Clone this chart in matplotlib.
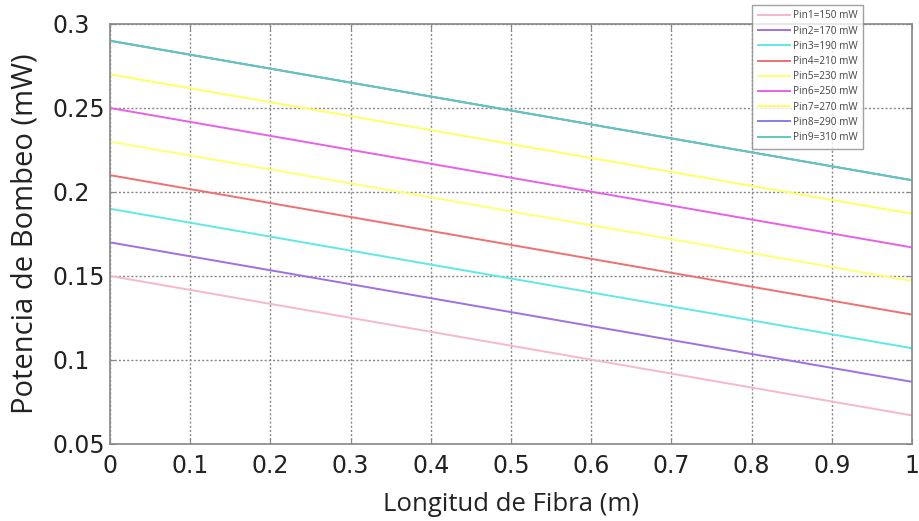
import matplotlib
matplotlib.use("Agg")
import matplotlib.pyplot as plt

# fibre length endpoints (m) and pump power at each end (mW)
longitud = [0, 1]
labels = ["Pin1=150 mW", "Pin2=170 mW", "Pin3=190 mW", "Pin4=210 mW", "Pin5=230 mW",
          "Pin6=250 mW", "Pin7=270 mW", "Pin8=290 mW", "Pin9=310 mW"]
p_inicio = [0.150, 0.170, 0.190, 0.210, 0.230, 0.250, 0.270, 0.290, 0.290]
p_final = [0.067, 0.087, 0.107, 0.127, 0.147, 0.167, 0.187, 0.207, 0.207]
colores = ["#f7b8c8", "#a070e0", "#60e8e8", "#f07070", "#ffff70",
           "#e860e8", "#ffff60", "#8080e8", "#60c8b8"]

plt.rcParams['font.family'] = ['DejaVu Sans']

fig = plt.figure(figsize=(9.2, 5.21), dpi=100)
ax = fig.add_axes([0.1196, 0.1478, 0.8717, 0.8062])

for lab, p0, p1, c in zip(labels, p_inicio, p_final, colores):
    ax.plot(longitud, [p0, p1], color=c, lw=1.4, label=lab)

ax.set_xlim(0, 1)
ax.set_ylim(0.05, 0.3)
ax.set_xticks([0, 0.1, 0.2, 0.3, 0.4, 0.5, 0.6, 0.7, 0.8, 0.9, 1])
ax.set_xticklabels(["0", "0.1", "0.2", "0.3", "0.4", "0.5", "0.6", "0.7", "0.8", "0.9", "1"])
ax.set_yticks([0.05, 0.1, 0.15, 0.2, 0.25, 0.3])
ax.set_yticklabels(["0.05", "0.1", "0.15", "0.2", "0.25", "0.3"], ha="left")
ax.tick_params(direction="in", length=4, labelsize=17, colors="#888888",
               top=True, right=True, labelcolor="#222222")
ax.tick_params(axis="x", pad=7)
ax.tick_params(axis="y", pad=41.5)
ax.grid(True, linestyle=(0, (1.5, 1.5)), color="#888888", lw=1.0)
for s in ax.spines.values():
    s.set_color("#888888")
    s.set_linewidth(1.2)

ax.set_xlabel("Longitud de Fibra (m)", fontsize=18.5, family="Open Sans", color="#222222")
ax.xaxis.set_label_coords(0.5, -0.143)
ax.xaxis.label.set_va("center")
ax.set_ylabel("Potencia de Bombeo (mW)", fontsize=21, family="Open Sans", color="#222222")
ax.yaxis.set_label_coords(-0.106, 0.5)
ax.yaxis.label.set_va("center")

leg = fig.legend(loc="upper left", bbox_to_anchor=(752 / 920, 1 - 5 / 521),
                 borderaxespad=0, frameon=True, fancybox=False,
                 handlelength=3.2, labelspacing=0.42, borderpad=0.55,
                 handletextpad=0.35, prop={"family": "Open Sans", "size": 7.2})
leg.get_frame().set_edgecolor("#888888")
leg.get_frame().set_linewidth(1.0)
for t in leg.get_texts():
    t.set_color("#444444")

fig.savefig("out.png", dpi=100)
